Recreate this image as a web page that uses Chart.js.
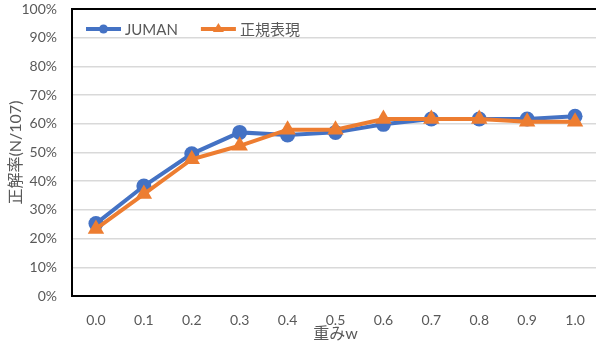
<!DOCTYPE html>
<html>
<head>
<meta charset="utf-8">
<script src="https://cdn.jsdelivr.net/npm/chart.js@4/dist/chart.umd.min.js"></script>
<style>
  html, body { margin: 0; padding: 0; background: #fff; overflow: hidden; }
  #wrap { width: 600px; height: 343px; }
</style>
</head>
<body>
<div id="wrap"><canvas id="c" width="600" height="343"></canvas></div>
<script>
// Weight w, and number of correct answers out of 107 for each method
const weights = ['0.0', '0.1', '0.2', '0.3', '0.4', '0.5', '0.6', '0.7', '0.8', '0.9', '1.0'];
const total = 107;
const jumanCorrect = [27, 41, 53, 61, 60, 61, 64, 66, 66, 66, 67];
const regexCorrect = [25, 38, 51, 56, 62, 62, 66, 66, 66, 65, 65];
const yTicks = [0, 10, 20, 30, 40, 50, 60, 70, 80, 90, 100];

const toPct = arr => arr.map(v => v / total * 100);

const BLUE = '#4472C4';
const ORANGE = '#ED7D31';
const GREY = '#595959';
const FONT = "Lato, 'Noto Sans CJK JP', sans-serif";

// Black frame on the left, top and bottom of the plot, plus an in-plot legend
const framePlugin = {
  id: 'frame',
  afterDraw(chart) {
    const { ctx, chartArea: a } = chart;
    ctx.save();
    ctx.strokeStyle = '#000';
    ctx.lineWidth = 2;
    ctx.beginPath();
    ctx.moveTo(a.right + 2, a.top);
    ctx.lineTo(a.left, a.top);
    ctx.lineTo(a.left, a.bottom);
    ctx.lineTo(a.right + 2, a.bottom);
    ctx.stroke();

    // legend
    const y = 29;
    let x = 86;
    chart.data.datasets.forEach(ds => {
      ctx.strokeStyle = ds.borderColor;
      ctx.fillStyle = ds.borderColor;
      ctx.lineWidth = 4;
      ctx.beginPath();
      ctx.moveTo(x, y);
      ctx.lineTo(x + 35, y);
      ctx.stroke();
      const cx = x + 17.5;
      ctx.beginPath();
      if (ds.pointStyle === 'triangle') {
        ctx.moveTo(cx, y - 6);
        ctx.lineTo(cx + 5.5, y + 3);
        ctx.lineTo(cx - 5.5, y + 3);
        ctx.closePath();
      } else {
        ctx.arc(cx, y, 4.5, 0, Math.PI * 2);
      }
      ctx.fill();
      ctx.fillStyle = GREY;
      ctx.font = "15px " + FONT;
      ctx.textBaseline = 'middle';
      ctx.textAlign = 'left';
      ctx.fillText(ds.label, x + 39, y + 1);
      x += 39 + ctx.measureText(ds.label).width + 23;
    });
    ctx.restore();
  }
};

new Chart(document.getElementById('c'), {
  type: 'line',
  data: {
    labels: weights,
    datasets: [
      {
        label: 'JUMAN',
        data: toPct(jumanCorrect),
        borderColor: BLUE,
        backgroundColor: BLUE,
        borderWidth: 4,
        pointStyle: 'circle',
        pointRadius: 7.5,
        pointHoverRadius: 7.5,
        pointBorderWidth: 0,
        order: 1,
        tension: 0
      },
      {
        label: '正規表現',
        data: toPct(regexCorrect),
        borderColor: ORANGE,
        backgroundColor: ORANGE,
        borderWidth: 4,
        pointStyle: 'triangle',
        pointRadius: 9.5,
        pointHoverRadius: 9.5,
        pointBorderWidth: 0,
        order: 0,
        tension: 0
      }
    ]
  },
  options: {
    responsive: false,
    animation: false,
    devicePixelRatio: 1,
    layout: { autoPadding: false, padding: { top: 9, right: 1, left: 0, bottom: 0 } },
    plugins: {
      legend: { display: false },
      tooltip: { enabled: false }
    },
    scales: {
      x: {
        offset: true,
        grid: { display: false, drawTicks: false },
        border: { display: false },
        ticks: { color: GREY, font: { family: FONT, size: 14 }, padding: 16 },
        title: {
          display: true,
          text: '重みw',
          color: GREY,
          font: { family: FONT, size: 16 },
          padding: { top: -4, bottom: 0 }
        },
        afterFit(s) { s.height = 47; s.paddingLeft = 0; s.paddingRight = 0; }
      },
      y: {
        min: 0,
        max: 100,
        afterBuildTicks(s) { s.ticks = yTicks.map(v => ({ value: v })); },
        grid: { color: '#d9d9d9', lineWidth: 1.5, drawTicks: false },
        border: { display: false },
        ticks: {
          color: GREY,
          font: { family: FONT, size: 14 },
          padding: 15,
          callback: v => v + '%'
        },
        title: {
          display: true,
          text: '正解率(N/107)',
          color: GREY,
          font: { family: FONT, size: 16 },
          padding: { top: 6, bottom: 0 }
        },
        afterFit(s) { s.width = 72; s.paddingTop = 0; s.paddingBottom = 0; }
      }
    }
  },
  plugins: [framePlugin]
});
</script>
</body>
</html>
